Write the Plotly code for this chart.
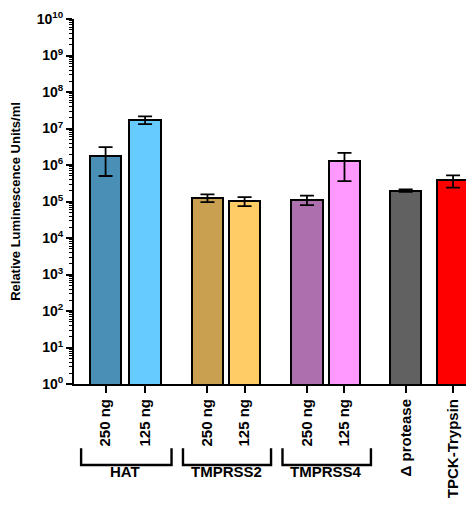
import plotly.graph_objects as go

# ---- data ----
tick_labels = ["250 ng", "125 ng", "250 ng", "125 ng", "250 ng", "125 ng", "Δ protease", "TPCK-Trypsin"]
values = [1.8e6, 1.74e7, 1.26e5, 1.03e5, 1.12e5, 1.26e6, 2.0e5, 3.8e5]
errors = [1.3e6, 0.42e7, 0.3e5, 0.28e5, 0.32e5, 0.9e6, 0.15e5, 1.4e5]
groups = ["HAT", "TMPRSS2", "TMPRSS4"]
group_members = [[0, 1], [2, 3], [4, 5]]
colors = ["#4a8fb5", "#66ccff", "#c8a050", "#ffcc66", "#ae6fae", "#ff99ff", "#616161", "#ff0000"]

# ---- layout positions ----
xpos = [0, 1, 2.58, 3.52, 5.1, 6.05, 7.6, 8.8]
bar_w = 0.8
FONT = "Liberation Sans, Arial, sans-serif"

fig = go.Figure()
fig.add_trace(go.Bar(
    x=xpos, y=values, width=bar_w,
    marker=dict(color=colors, line=dict(color="black", width=2)),
    error_y=dict(type="data", array=errors, visible=True, color="black", thickness=1.8, width=7),
    showlegend=False,
))

# brackets and group labels
for name, mem in zip(groups, group_members):
    x0 = xpos[mem[0]] - 0.62
    x1 = xpos[mem[-1]] + 0.67
    fig.add_shape(type="path",
                  path=f"M {x0},-0.176 L {x0},-0.222 L {x1},-0.222 L {x1},-0.176",
                  xref="x", yref="paper", line=dict(color="black", width=2.4))
    fig.add_annotation(x=(xpos[mem[0]] + xpos[mem[-1]]) / 2, y=-0.268, xref="x", yref="paper",
                       text=f"<b>{name}</b>", showarrow=False,
                       font=dict(family=FONT, size=15, color="black"))

yticks = [10 ** k for k in range(0, 11)]
ytext = [f"<b>10<sup>{k}</sup></b>" for k in range(0, 11)]
yminor = [m * 10 ** k for k in range(0, 10) for m in range(2, 10)]

fig.update_layout(
    width=466, height=502,
    margin=dict(l=66, r=0, t=11, b=126),
    paper_bgcolor="white", plot_bgcolor="white",
    bargap=0,
    font=dict(family=FONT, size=12, color="black"),
    xaxis=dict(
        range=[-0.8, 9.33], tickmode="array", tickvals=xpos,
        ticktext=[f"<b>{t}</b>" for t in tick_labels],
        tickangle=-90, ticks="outside", ticklen=7, tickwidth=1.8, tickcolor="black",
        showline=True, linecolor="black", linewidth=2, showgrid=False, zeroline=False,
        tickfont=dict(family=FONT, size=15, color="black"), automargin=False,
        ticklabeloverflow="allow",
    ),
    yaxis=dict(
        type="log", range=[0, 10], tickmode="array", tickvals=yticks, ticktext=ytext,
        ticks="outside", ticklen=6, tickwidth=2, tickcolor="black",
        showline=True, linecolor="black", linewidth=2, showgrid=False, zeroline=False,
        tickfont=dict(family=FONT, size=14, color="black"), automargin=False,
        ticklabeloverflow="allow",
        minor=dict(tickmode="array", tickvals=yminor, ticks="outside", ticklen=3,
                   tickwidth=1, tickcolor="black", showgrid=False),
        title=dict(text="<b>Relative Luminescence Units/ml</b>", standoff=14,
                   font=dict(family=FONT, size=13, color="black")),
    ),
)

fig.write_html("out.html")
